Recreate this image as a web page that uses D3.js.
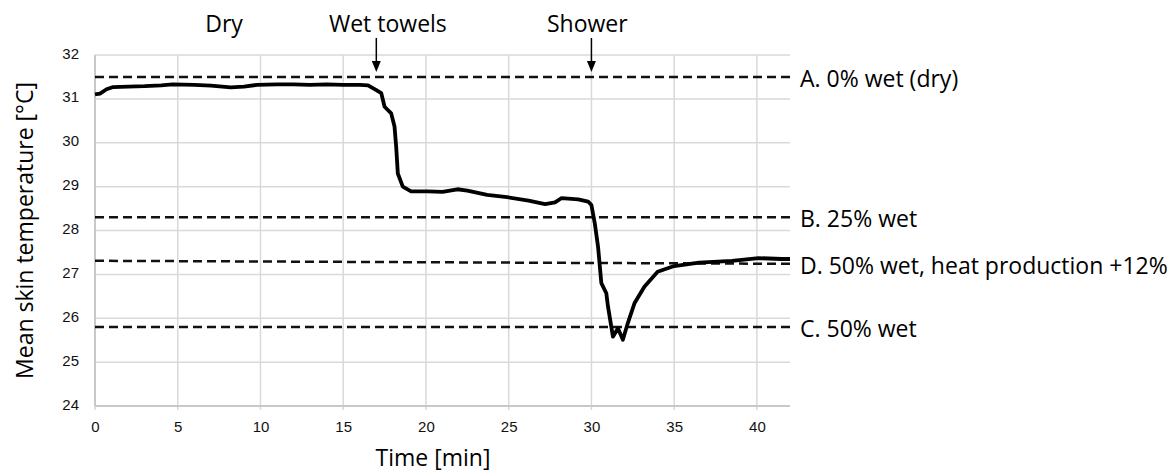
<!DOCTYPE html>
<html>
<head>
<meta charset="utf-8">
<script src="https://cdn.jsdelivr.net/npm/d3@7"></script>
<style>
  body { margin: 0; background: #fff; }
  svg { display: block; font-family: "Open Sans", sans-serif; }
  .grid line { stroke: #d9d9d9; stroke-width: 1.5; }
  .axis path, .axis line { display: none; }
  .axis text { font-size: 15px; fill: #111; }
</style>
</head>
<body>
<svg id="chart" width="1167" height="475"></svg>
<script>
var times = [0, 0.3, 0.7, 1.1, 2, 3, 4, 4.7, 6, 7, 8.2, 9, 9.8, 11, 12, 13, 14, 15, 16, 16.5,
    17, 17.3, 17.5, 17.9, 18.1, 18.2, 18.3, 18.6, 19.1, 20.1, 21, 21.9, 22.5, 23.7, 24.9, 26.2,
    27.2, 27.8, 28.2, 29.2, 29.8, 30.0, 30.2, 30.4, 30.6, 30.9, 31.0, 31.2, 31.3, 31.6, 31.9,
    32.2, 32.6, 33.2, 34.0, 35.0, 36.5, 38.5, 40.1, 41.5, 42];
var temps = [31.1, 31.12, 31.22, 31.27, 31.28, 31.29, 31.31, 31.33, 31.32, 31.3, 31.26, 31.28,
    31.32, 31.33, 31.33, 31.32, 31.33, 31.32, 31.32, 31.31,
    31.2, 31.13, 30.82, 30.67, 30.37, 29.91, 29.3, 29.0, 28.89, 28.89, 28.88, 28.94, 28.91,
    28.81, 28.76, 28.68, 28.6, 28.64, 28.74, 28.71, 28.66, 28.58, 28.17, 27.63, 26.8, 26.57,
    26.27, 25.81, 25.58, 25.77, 25.51, 25.89, 26.34, 26.72, 27.06, 27.19, 27.27, 27.31, 27.37,
    27.35, 27.35];

// model reference levels (start value, end value)
var refLabels = ["A. 0% wet (dry)", "B. 25% wet", "D. 50% wet, heat production +12%", "C. 50% wet"];
var refStart = [31.5, 28.3, 27.31, 25.8];
var refEnd = [31.5, 28.3, 27.24, 25.8];

var eventLabels = ["Dry", "Wet towels", "Shower"];
var eventLabelTimes = [7.8, 17.7, 29.75];
var arrowTimes = [17, 30];

var xTicks = [0, 5, 10, 15, 20, 25, 30, 35, 40];
var yTicks = [24, 25, 26, 27, 28, 29, 30, 31, 32];

var svg = d3.select("#chart"),
    margin = { top: 55, left: 95 },
    width = 695,
    height = 351;

var x = d3.scaleLinear().domain([0, 42]).range([0, width]),
    y = d3.scaleLinear().domain([24, 32]).range([height, 0]);

var g = svg.append("g")
    .attr("transform", "translate(" + margin.left + "," + margin.top + ")");

// grid
var grid = g.append("g").attr("class", "grid");
grid.selectAll("line.h").data(yTicks).enter().append("line")
    .attr("class", "h")
    .attr("x1", 0).attr("x2", width)
    .attr("y1", function(d) { return y(d); }).attr("y2", function(d) { return y(d); });
grid.selectAll("line.v").data(xTicks).enter().append("line")
    .attr("class", "v")
    .attr("y1", 0).attr("y2", height + 4)
    .attr("x1", function(d) { return x(d); }).attr("x2", function(d) { return x(d); });

// axis lines
g.append("line").attr("x1", 0).attr("x2", 0).attr("y1", 0).attr("y2", height)
    .attr("stroke", "#c8c8c8").attr("stroke-width", 2);
g.append("line").attr("x1", 0).attr("x2", width).attr("y1", height).attr("y2", height)
    .attr("stroke", "#c8c8c8").attr("stroke-width", 2);

g.append("g").attr("class", "axis")
    .attr("transform", "translate(0," + height + ")")
    .call(d3.axisBottom(x).tickValues(xTicks).tickSize(0).tickPadding(15));

g.append("g").attr("class", "axis")
    .call(d3.axisLeft(y).tickValues(yTicks).tickSize(0).tickPadding(16))
    .selectAll("text").attr("dy", "0.2em");

// reference levels
refLabels.forEach(function(lab, i) {
    g.append("line")
        .attr("x1", 0).attr("x2", width)
        .attr("y1", y(refStart[i])).attr("y2", y(refEnd[i]))
        .attr("stroke", "#111").attr("stroke-width", 2.5)
        .attr("stroke-dasharray", "9,5");
    g.append("text")
        .attr("x", width + 10)
        .attr("y", y(refEnd[i]) + 10)
        .style("font-size", "23px")
        .text(lab);
});

// temperature trace
var line = d3.line()
    .x(function(d, i) { return x(times[i]); })
    .y(function(d) { return y(d); });

g.append("path")
    .datum(temps)
    .attr("fill", "none")
    .attr("stroke", "#000")
    .attr("stroke-width", 3.8)
    .attr("stroke-linejoin", "round")
    .attr("d", line);

// event labels and arrows
eventLabels.forEach(function(lab, i) {
    g.append("text")
        .attr("x", x(eventLabelTimes[i])).attr("y", -23)
        .attr("text-anchor", "middle")
        .style("font-size", "23px")
        .text(lab);
});
arrowTimes.forEach(function(t) {
    var ex = x(t);
    g.append("line")
        .attr("x1", ex).attr("x2", ex).attr("y1", -17).attr("y2", 8)
        .attr("stroke", "#000").attr("stroke-width", 1.5);
    g.append("path")
        .attr("d", "M" + (ex - 4.5) + ",6L" + (ex + 4.5) + ",6L" + ex + ",17Z")
        .attr("fill", "#000");
});

// axis titles
svg.append("text")
    .attr("transform", "translate(33," + (margin.top + height / 2) + ") rotate(-90)")
    .attr("text-anchor", "middle")
    .style("font-size", "23px")
    .text("Mean skin temperature [°C]");

svg.append("text")
    .attr("x", 433).attr("y", 466)
    .attr("text-anchor", "middle")
    .style("font-size", "23px")
    .text("Time [min]");
</script>
</body>
</html>
